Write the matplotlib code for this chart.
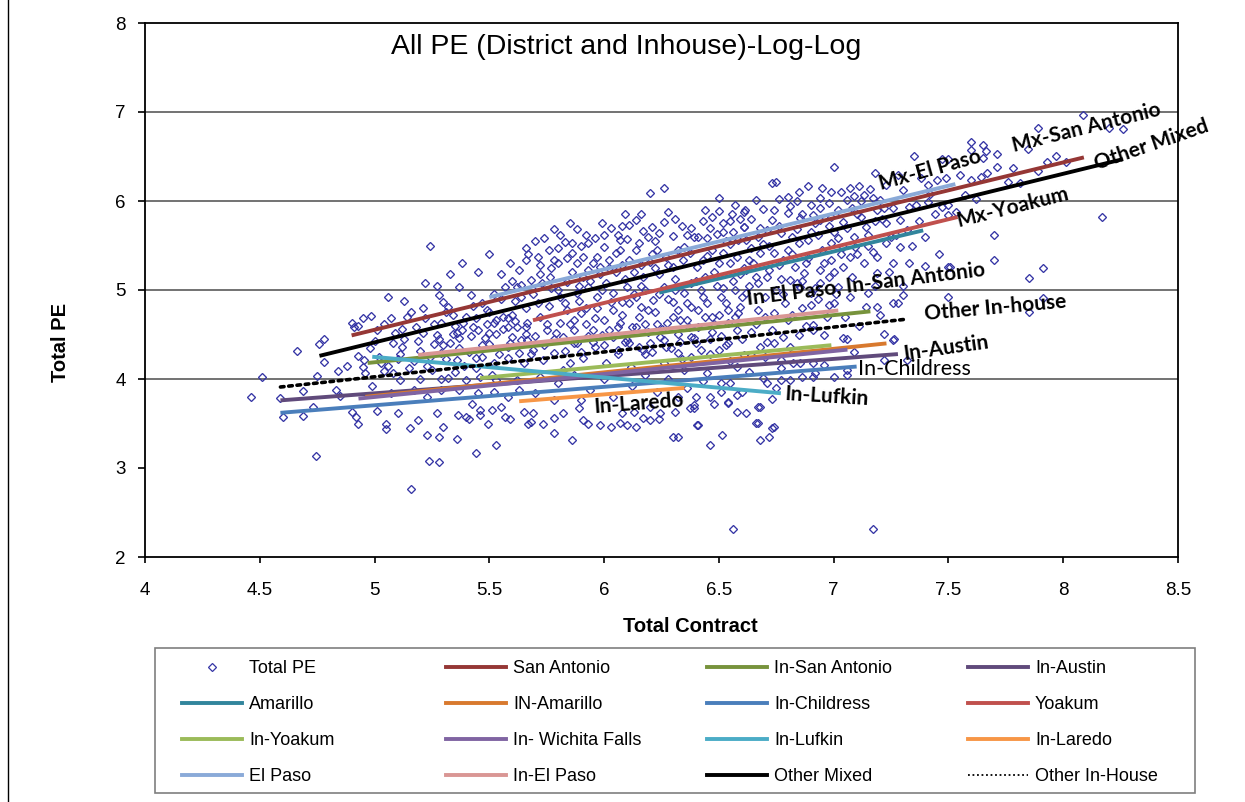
import matplotlib
matplotlib.use('Agg')
import matplotlib.pyplot as plt
from matplotlib.lines import Line2D
from matplotlib.patches import Rectangle

# ---------------- data ----------------
pe_points = [
    (4.46,3.80),(4.51,4.02),(4.59,3.79),(4.60,3.57),(4.66,4.31),(4.69,3.87),(4.69,3.58),(4.73,3.69),(4.745,3.13),
    (4.75,4.03),(4.76,4.39),(4.78,4.45),(4.78,4.19),(4.83,3.88),(4.84,4.09),(4.85,3.81),(4.88,4.15),(4.90,4.63),
    (4.91,4.58),(4.90,3.63),(4.92,3.57),(4.93,3.50),(4.93,4.60),(4.93,4.26),(4.95,4.69),(4.95,4.13),(4.955,4.21),
    (4.96,4.07),(4.985,4.71),(4.99,3.92),(5.00,4.43),(5.01,3.64),(5.04,4.09),(5.05,3.49),(5.05,3.44),(5.06,4.92),
    (5.08,4.40),(5.08,4.07),(5.10,3.62),(5.12,4.56),(5.13,4.88),(5.12,4.36),(5.155,3.45),(5.16,2.76),(5.19,4.43),
    (5.19,3.54),(5.21,4.80),(5.20,4.00),(5.22,5.08),(5.23,3.37),(5.235,3.08),(5.24,4.25),(5.26,4.39),(5.27,5.05),
    (5.28,4.94),(5.28,3.07),(5.28,3.35),(5.27,3.62),(5.29,4.63),(5.29,4.00),(5.30,4.38),(5.30,3.46),(5.32,4.81),
    (5.36,4.52),(5.36,3.33),(5.365,3.60),(5.37,5.03),(5.385,4.63),(5.40,3.57),(5.42,4.94),(5.41,3.55),(5.425,3.72),
    (5.43,4.58),(5.44,3.17),(5.46,3.60),(5.49,4.78),(5.495,3.50),(5.50,4.39),(5.51,3.65),(5.53,3.26),(5.53,4.66),
    (5.53,4.51),(5.57,3.57),(5.58,4.58),(5.59,3.55),(5.60,4.72),(5.61,4.65),(5.63,4.29),(5.66,4.51),(5.66,4.80),
    (5.67,3.50),(5.64,5.06),(5.62,5.03),(5.57,5.03),(5.60,5.10),
    (5.34,4.51),(5.37,4.46),(5.45,4.55),(5.48,4.46),(5.52,4.63),(5.60,4.47),(5.59,4.40),(5.64,4.44),(5.29,4.29),
    (5.36,4.21),(5.44,4.24),(5.52,4.18),(5.58,4.24),(5.65,4.18),(5.32,4.01),(5.40,3.99),(5.46,4.02),(5.53,3.99),
    (5.62,3.99),(5.29,3.88),(5.37,3.88),(5.45,3.84),(5.52,3.85),(5.58,3.80),(5.23,3.80),(5.17,3.88),(5.11,3.99),
    (5.07,3.84),(5.55,3.69),(5.46,3.65),(5.65,3.63),(5.24,5.50),(5.38,5.30),(5.45,5.20),(5.50,5.40),(5.33,5.18),
    (5.31,4.75),(5.47,4.85),(5.55,4.90),(5.40,4.70),(5.50,4.75),(5.58,4.68),(5.35,4.60),
    (6.20,6.09),(6.26,6.15),(6.50,6.03),(6.50,5.89),(6.555,5.85),(6.61,5.88),(5.99,5.75),(6.14,5.79),(6.11,5.73),
    (6.21,5.71),(6.26,5.76),(6.43,5.77),(6.46,5.70),(6.52,5.75),(6.52,5.65),(6.59,5.80),(6.61,5.71),(5.66,5.47),
    (5.83,5.54),(5.86,5.53),(5.90,5.49),(5.93,5.53),(6.00,5.48),(6.06,5.62),(6.07,5.56),(6.10,5.57),(6.15,5.53),
    (6.19,5.60),(6.23,5.45),(6.24,5.64),(6.30,5.61),(6.36,5.62),(6.39,5.60),(6.32,5.45),(6.45,5.58),(6.49,5.63),
    (6.56,5.65),(6.585,5.56),(6.62,5.56),
    (5.66,5.34),(5.71,5.37),(5.72,5.28),(5.76,5.45),(5.78,5.34),(5.80,5.47),(5.84,5.36),(5.88,5.30),(5.91,5.37),
    (5.93,5.22),(5.97,5.37),(5.98,5.26),(6.02,5.34),(6.05,5.42),(6.08,5.28),(6.11,5.34),(6.14,5.45),(6.16,5.28),
    (6.20,5.31),(6.22,5.25),(6.27,5.37),(6.30,5.26),(6.345,5.34),(6.375,5.42),(6.405,5.26),(6.43,5.34),(6.47,5.45),
    (6.50,5.30),(6.52,5.42),(6.55,5.30),(6.58,5.37),(6.61,5.25),(6.63,5.34),
    (5.68,5.11),(5.71,5.03),(5.765,5.15),(5.80,5.00),(5.84,5.09),(5.88,4.97),(5.91,5.15),(5.93,5.03),(5.97,4.92),
    (6.01,5.08),(6.04,4.97),(6.08,4.87),(6.10,5.03),(6.14,4.92),(6.16,4.81),(6.18,5.00),(6.215,4.89),(6.26,5.03),
    (6.30,4.87),(6.32,4.78),(6.35,4.97),(6.38,4.81),(6.42,5.00),(6.45,4.85),(6.47,4.70),(6.51,4.92),(6.54,4.78),
    (6.57,5.00),(6.59,4.81),(6.62,4.97),
    (5.665,4.63),(5.72,4.70),(5.75,4.55),(5.81,4.63),(5.82,4.47),(5.87,4.66),(5.90,4.74),(5.95,4.55),(6.00,4.66),
    (6.04,4.47),(6.07,4.63),(6.11,4.40),(6.15,4.70),(6.19,4.53),(6.245,4.47),(6.275,4.63),(6.32,4.51),(6.36,4.66),
    (6.39,4.46),(6.44,4.70),(6.47,4.53),(6.54,4.63),(6.585,4.74),
    (5.68,3.52),(5.69,3.62),(5.735,3.49),(5.78,3.39),(5.78,3.56),(5.82,3.62),(5.86,3.31),(5.89,3.67),(5.91,3.54),
    (5.93,3.50),(5.98,3.48),(6.10,3.48),(6.14,3.46),(6.17,3.56),(6.20,3.54),(6.24,3.55),(6.30,3.35),(6.32,3.35),
    (6.31,3.63),(6.375,3.67),(6.40,3.80),(6.405,3.48),(6.46,3.26),(6.515,3.37),(6.54,3.73),(6.58,3.63),(6.58,3.82),
    (6.56,2.32),(6.51,3.85),
    (5.665,4.44),(5.69,4.33),(5.735,4.21),(5.78,4.29),(5.82,4.10),(5.87,4.40),(5.85,4.18),(5.91,4.24),(5.96,4.36),
    (6.01,4.18),(6.06,4.33),(6.10,4.44),(6.115,4.13),(6.17,4.33),(6.20,4.40),(6.26,4.44),(6.26,4.18),(6.32,4.29),
    (6.35,4.10),(6.38,4.47),(6.42,4.33),(6.45,4.07),(6.50,4.33),(6.51,3.96),(6.54,4.40),(6.58,4.13),(6.61,4.27),
    (6.39,3.71),(5.78,3.76),(5.70,3.84),(5.90,3.76),(6.08,3.62),
    (7.35,6.51),(7.47,6.47),(7.50,6.47),(7.00,6.38),(7.18,6.31),(7.28,6.29),(7.38,6.26),(6.73,6.20),(6.75,6.21),
    (7.41,6.18),(7.45,6.24),(7.23,6.18),(6.89,6.17),(6.95,6.15),(6.85,6.10),(6.99,6.10),(7.03,6.10),(7.07,6.15),
    (7.11,6.17),(7.13,6.07),(7.16,6.13),(6.66,6.01),(6.76,6.02),(6.81,5.94),(6.84,6.00),(6.90,5.96),(6.94,6.03),
    (6.98,5.98),(7.06,6.01),(7.09,6.06),(7.17,6.03),(7.20,6.01),(7.19,5.90),(7.26,5.92),(7.33,5.93),(7.41,5.99),
    (7.47,5.93),(7.50,5.84),(6.615,5.90),(6.69,5.91),(6.73,5.79),(6.80,5.87),(6.855,5.81),(6.91,5.84),(6.94,5.79),
    (6.99,5.82),(7.04,5.76),(7.12,5.82),(7.14,5.71),(7.23,5.75),(7.29,5.79),(7.32,5.67),(6.61,5.71),(6.67,5.60),
    (6.71,5.67),(6.77,5.64),(6.82,5.60),(6.85,5.53),(6.89,5.56),(6.93,5.62),(6.99,5.53),(7.02,5.58),(7.09,5.60),
    (7.095,5.48),(7.17,5.43),(7.19,5.37),(7.23,5.53),(7.29,5.48),(7.07,5.37),(6.64,5.47),(6.68,5.42),(6.74,5.42),
    (6.78,5.34),(6.83,5.26),(6.87,5.19),(6.94,5.22),(6.99,5.34),(7.04,5.26),(7.26,5.30),(7.33,5.30),(7.50,5.26),
    (6.62,5.22),(6.67,5.08),(6.71,5.15),(6.75,5.00),(6.81,5.11),(6.855,5.03),(6.90,4.97),(6.94,5.08),(7.02,5.03),
    (7.07,4.92),(7.15,4.97),(7.19,5.19),(7.28,4.85),(7.19,4.81),
    (7.14,4.81),(7.20,4.72),(6.98,4.83),(7.00,4.85),(6.90,4.83),(6.86,4.80),(6.67,4.78),(6.74,4.74),(6.80,4.66),
    (6.91,4.61),(6.91,4.55),(6.96,4.49),(6.85,4.49),(6.78,4.47),(6.71,4.42),(6.64,4.53),(6.68,4.36),(6.74,4.40),
    (6.81,4.36),(7.06,4.45),(7.22,4.51),(7.265,4.45),(7.09,4.30),(6.64,4.27),(6.70,4.25),(6.77,4.21),(6.825,4.18),
    (6.91,4.18),(6.96,4.16),(7.06,4.04),(7.22,4.21),(7.32,4.21),(6.77,4.12),(6.63,4.08),(6.69,4.01),(6.77,3.99),
    (6.81,3.99),(6.86,4.02),(6.92,4.07),(6.75,3.90),(6.73,3.78),(6.68,3.69),(6.66,3.51),(6.73,3.45),(6.72,3.35),
    (6.68,3.31),(7.17,2.31),(6.62,3.62),
    (8.085,6.97),(7.89,6.82),(8.20,6.82),(8.26,6.81),(7.60,6.66),(7.65,6.63),(7.665,6.56),(7.71,6.53),(7.65,6.48),
    (7.60,6.57),(7.845,6.58),(7.97,6.51),(7.93,6.44),(8.01,6.44),(7.71,6.38),(7.78,6.37),(7.67,6.31),(7.64,6.27),
    (7.55,6.29),(7.49,6.26),(7.60,6.24),(7.76,6.21),(7.89,6.34),(7.81,6.20),(7.57,6.07),(7.62,6.02),(7.50,5.96),
    (7.535,5.88),(8.17,5.82),(7.70,5.62),(7.505,5.26),(7.91,5.25),(7.85,5.13),(7.70,5.34),(7.91,4.91),(7.85,4.75),
    (7.50,4.92),(7.40,5.27),
    (7.26,4.85),(7.30,4.94),(7.26,4.44),(7.04,4.46),(7.06,4.10),(7.00,4.02),(6.91,4.02),(6.855,4.18),(6.71,3.96),
    (6.67,3.69),(6.41,3.48),(6.54,3.74),(6.46,3.80),(6.32,3.80),(6.245,3.62),(6.20,3.69),(6.13,3.63),(6.07,3.51),
    (6.03,3.46),(6.39,3.67),(6.74,3.46),(6.67,3.51),
    (5.52,4.95),(5.55,5.18),(5.58,4.36),(5.61,4.88),(5.63,5.22),(5.66,4.58),(5.69,4.95),(5.70,4.48),(5.73,5.08),
    (5.74,4.38),(5.76,4.82),(5.77,5.25),(5.79,4.52),(5.81,4.92),(5.83,4.32),(5.84,4.77),(5.86,5.20),(5.87,4.55),
    (5.89,4.88),(5.90,4.30),(5.92,4.62),(5.94,5.10),(5.95,4.42),(5.97,4.80),(5.98,5.18),(5.99,4.50),
    (6.02,4.55),(6.03,4.86),(6.05,5.20),(6.06,4.28),(6.08,4.72),(6.09,5.12),(6.12,4.58),(6.13,4.95),(6.15,4.36),
    (6.17,5.15),(6.18,4.62),(6.21,4.30),(6.22,4.75),(6.24,5.18),(6.25,4.56),(6.28,4.90),(6.29,4.35),(6.31,5.12),
    (6.33,4.66),(6.34,4.22),(6.37,4.58),(6.38,5.08),(6.40,4.40),(6.41,4.78),(6.44,5.15),(6.46,4.28),(6.48,4.62),
    (6.49,5.05),(6.51,4.48),(6.53,4.85),(6.55,4.20),(6.56,5.10),(6.58,4.55),(6.60,4.92),
    (6.63,5.05),(6.65,5.30),(6.66,4.62),(6.69,5.52),(6.70,4.92),(6.72,5.22),(6.73,4.55),(6.76,5.72),(6.77,5.12),
    (6.79,4.85),(6.80,5.45),(6.82,4.72),(6.84,5.68),(6.86,5.10),(6.88,4.60),(6.89,5.36),(6.92,5.75),(6.93,4.90),
    (6.95,5.45),(6.97,4.70),(6.98,5.15),(7.00,5.65),(7.01,4.95),(7.03,5.40),(7.05,4.70),(7.08,5.15),(7.10,5.85),
    (7.11,4.60),(7.13,5.30),(7.15,5.62),(7.18,5.05),(7.21,5.80),(7.24,5.20),(7.27,5.62),(7.30,5.05),(7.34,5.50),
    (7.37,5.78),(7.40,5.60),(7.44,5.85),(7.46,5.40),
    (5.02,4.25),(5.04,4.62),(5.06,4.15),(5.09,4.52),(5.11,4.28),(5.14,4.70),(5.15,4.12),(5.18,4.58),(5.20,4.32),
    (5.22,4.68),(5.25,4.10),(5.27,4.50),(5.30,4.86),(5.33,4.40),(5.35,4.08),(5.38,4.55),(5.41,4.30),(5.43,4.82),
    (5.44,4.12),(5.47,4.38),(5.49,4.62),(5.51,4.05),(5.54,4.28),(5.56,4.56),
    (5.74,5.58),(5.81,5.62),(5.88,5.68),(5.96,5.58),(6.03,5.70),(6.09,5.85),(6.17,5.66),(6.28,5.88),(6.34,5.72),
    (6.41,5.60),(6.44,5.90),(6.53,5.55),(6.57,5.95),
    (5.63,3.88),(5.72,4.02),(5.80,3.95),(5.87,4.05),(5.94,3.88),(6.00,4.00),(6.04,3.80),(6.12,3.92),(6.18,4.05),
    (6.23,3.85),(6.28,4.00),(6.36,3.90),(6.43,3.98),(6.48,3.72),(6.55,3.95),(6.60,3.85),
    (5.56,4.70),(5.59,5.30),(5.62,4.58),(5.64,4.92),(5.67,5.40),(5.68,4.28),(5.71,4.85),(5.72,5.18),(5.75,4.62),
    (5.77,5.02),(5.78,4.45),(5.80,5.30),(5.83,4.85),(5.85,4.62),(5.86,5.42),(5.88,4.40),(5.89,5.05),(5.92,4.80),
    (5.93,4.48),(5.95,5.30),(5.96,4.68),(5.99,5.00),(6.00,4.38),(6.02,5.25),(6.04,4.78),(6.06,4.58),(6.07,5.45),
    (6.09,4.42),(6.11,4.85),(6.13,5.20),(6.14,4.58),(6.16,5.05),(6.18,4.28),(6.19,4.78),(6.21,5.40),(6.23,4.62),
    (6.24,4.95),(6.27,4.36),(6.28,5.28),(6.30,4.70),(6.31,5.00),(6.33,4.42),(6.35,5.48),(6.36,4.85),(6.38,4.25),
    (6.40,5.10),(6.41,4.58),(6.43,4.92),(6.45,5.38),(6.46,4.45),(6.48,5.20),(6.50,4.72),(6.52,5.02),(6.53,4.38),
    (6.55,5.52),(6.57,4.70),(6.59,5.18),(6.60,4.45),
    (6.64,5.80),(6.66,5.15),(6.68,5.70),(6.70,4.70),(6.72,5.50),(6.74,5.90),(6.76,5.28),(6.78,4.95),(6.80,6.05),
    (6.82,5.40),(6.84,5.08),(6.86,5.85),(6.88,5.30),(6.90,5.65),(6.92,5.02),(6.94,5.92),(6.96,5.30),(6.98,5.72),
    (7.00,5.20),(7.02,5.90),(7.04,5.48),(7.06,5.70),(7.08,5.92),(7.10,5.40),(7.12,6.00),(7.15,5.50),(7.18,5.78),
    (7.22,5.92),(7.25,5.60),(7.30,6.12),(7.36,5.95),(7.42,6.08),
    (4.98,4.35),(5.01,4.55),(5.03,4.18),(5.07,4.68),(5.10,4.22),(5.13,4.45),(5.16,4.75),(5.17,4.20),(5.21,4.52),
    (5.23,4.15),(5.26,4.62),(5.28,4.45),(5.31,4.22),(5.34,4.72),(5.37,4.35),(5.39,4.15),(5.42,4.48),(5.44,4.68),
    (5.47,4.25),(5.50,4.52),
    (5.70,5.55),(5.78,5.68),(5.85,5.75),(5.92,5.62),(6.00,5.62),(6.08,5.72),(6.16,5.85),(6.22,5.55),(6.31,5.80),
    (6.38,5.70),(6.47,5.82),(6.55,5.78),
]
total_contract = [p[0] for p in pe_points]
total_pe = [p[1] for p in pe_points]

series_names = ["San Antonio", "In-San Antonio", "In-Austin", "Amarillo", "IN-Amarillo", "In-Childress",
                "Yoakum", "In-Yoakum", "In- Wichita Falls", "In-Lufkin", "In-Laredo", "El Paso",
                "In-El Paso", "Other Mixed", "Other In-House"]
series_x0 = [4.90, 4.97, 4.59, 6.24, 4.96, 4.59, 5.69, 5.46, 4.93, 4.99, 5.63, 5.50, 5.19, 4.76, 4.59]
series_y0 = [4.49, 4.18, 3.76, 4.97, 3.80, 3.62, 4.66, 4.01, 3.78, 4.25, 3.75, 4.92, 4.27, 4.26, 3.91]
series_x1 = [8.09, 7.16, 7.28, 7.39, 7.23, 7.10, 7.54, 6.99, 7.06, 6.77, 6.35, 7.53, 7.02, 8.26, 7.31]
series_y1 = [6.49, 4.76, 4.28, 5.67, 4.40, 4.14, 5.82, 4.38, 4.33, 3.84, 3.90, 6.19, 4.77, 6.47, 4.67]
series_colors = ["#953735", "#77933C", "#604A7B", "#31859C", "#D8792E", "#4A7EBB", "#C0504D", "#9BBB59",
                 "#8064A2", "#4BACC6", "#F79646", "#8AAAD8", "#D99694", "#000000", "#000000"]

annot_texts = ["Mx-El Paso", "Mx-San Antonio", "Other Mixed", "Mx-Yoakum", "In El Paso, In-San Antonio",
               "Other In-house", "In-Austin", "In-Childress", "In-Lufkin", "In-Laredo"]
annot_x = [7.42, 8.10, 8.385, 7.78, 7.14, 7.705, 7.49, 7.35, 6.97, 6.15]
annot_y = [6.35, 6.82, 6.63, 5.93, 5.06, 4.80, 4.35, 4.11, 3.80, 3.72]
annot_rot = [15.5, 14, 19, 14, 7, 5, 8, 0, -3.5, 4.3]

legend_rows = [["Total PE", "San Antonio", "In-San Antonio", "In-Austin"],
               ["Amarillo", "IN-Amarillo", "In-Childress", "Yoakum"],
               ["In-Yoakum", "In- Wichita Falls", "In-Lufkin", "In-Laredo"],
               ["El Paso", "In-El Paso", "Other Mixed", "Other In-House"]]

# ---------------- figure ----------------
W, H = 1245, 802
fig = plt.figure(figsize=(W / 100, H / 100), dpi=100)
ax = fig.add_axes([145 / W, 1 - 557 / H, (1178 - 145) / W, (557 - 23) / H])
ax.set_xlim(4, 8.5)
ax.set_ylim(2, 8)

for v in [4, 5, 6, 7]:
    ax.axhline(v, color='#5a5a5a', lw=1.2, zorder=0)

handles = {}
ax.plot(total_contract, total_pe, ls='none', marker='D', ms=4.5, mfc='none',
        mec='#3535A5', mew=0.95, zorder=2)
handles["Total PE"] = Line2D([], [], ls='none', marker='D', ms=4.0, mfc='none', mec='#3535A5', mew=0.9)

for name, x0, y0, x1, y1, c in zip(series_names, series_x0, series_y0, series_x1, series_y1, series_colors):
    if name == "Other In-House":
        ax.plot([x0, x1], [y0, y1], color=c, lw=2.6, ls=(0, (1.0, 1.3)), dash_capstyle='round', zorder=3)
        handles[name] = Line2D([], [], color=c, lw=1.3, ls=(0, (1, 1.5)))
    else:
        ax.plot([x0, x1], [y0, y1], color=c, lw=2.8, solid_capstyle='butt', zorder=3)
        handles[name] = Line2D([], [], color=c, lw=2.8)

for t, x, y, r in zip(annot_texts, annot_x, annot_y, annot_rot):
    normal = (t == "In-Childress")
    ax.text(x, y, t, rotation=r, rotation_mode='anchor', ha='center', va='center',
            family='Lato', weight='normal' if normal else 'bold', fontsize=15.5 if normal else 15,
            color='black', zorder=5, clip_on=False)

ax.text((626 - 145) / (1178 - 145), 1 - (47 - 23) / (557 - 23), "All PE (District and Inhouse)-Log-Log",
        transform=ax.transAxes, ha='center', va='center', family='Liberation Sans', fontsize=20.5)

for s in ax.spines.values():
    s.set_color('black')
    s.set_linewidth(1.3)

ax.set_xticks([4, 4.5, 5, 5.5, 6, 6.5, 7, 7.5, 8, 8.5])
ax.set_xticklabels(["4", "4.5", "5", "5.5", "6", "6.5", "7", "7.5", "8", "8.5"])
ax.set_yticks([2, 3, 4, 5, 6, 7, 8])
ax.tick_params(axis='x', direction='out', length=4, width=1.2, pad=14, labelsize=13.5)
ax.tick_params(axis='y', direction='out', length=5, width=1.2, pad=9, labelsize=13.5)
for lab in ax.get_xticklabels() + ax.get_yticklabels():
    lab.set_family('Liberation Sans')

fig.text(690 / W, 1 - 626 / H, "Total Contract", ha='center', va='center',
         family='Liberation Sans', weight='bold', fontsize=14.5)
fig.text(60 / W, 1 - 342 / H, "Total PE", ha='center', va='center', rotation=90,
         family='Liberation Sans', weight='bold', fontsize=14.5)

# page border line on far left
fig.add_artist(Line2D([8 / W, 8 / W], [0, 1], color='black', lw=1.0))

# legend frame and four columns
fig.add_artist(Rectangle((155 / W, 1 - 793 / H), 1040 / W, 145 / H, transform=fig.transFigure,
                         facecolor='white', edgecolor='#7f7f7f', lw=1.2, zorder=1))
col_x = [182, 446, 707, 968]
fs = 13
fs_px = fs * 100 / 72
for c, xpx in enumerate(col_x):
    names = [row[c] for row in legend_rows]
    lg = fig.legend([handles[n] for n in names], names, loc='upper left',
                    bbox_to_anchor=(xpx / W, 1 - 660 / H), frameon=False, numpoints=1,
                    prop={'family': 'Liberation Sans', 'size': fs},
                    handlelength=60 / fs_px, handletextpad=7 / fs_px, borderpad=0,
                    borderaxespad=0, labelspacing=1.05)
    lg.set_zorder(2)

fig.savefig('out.png', dpi=100)
